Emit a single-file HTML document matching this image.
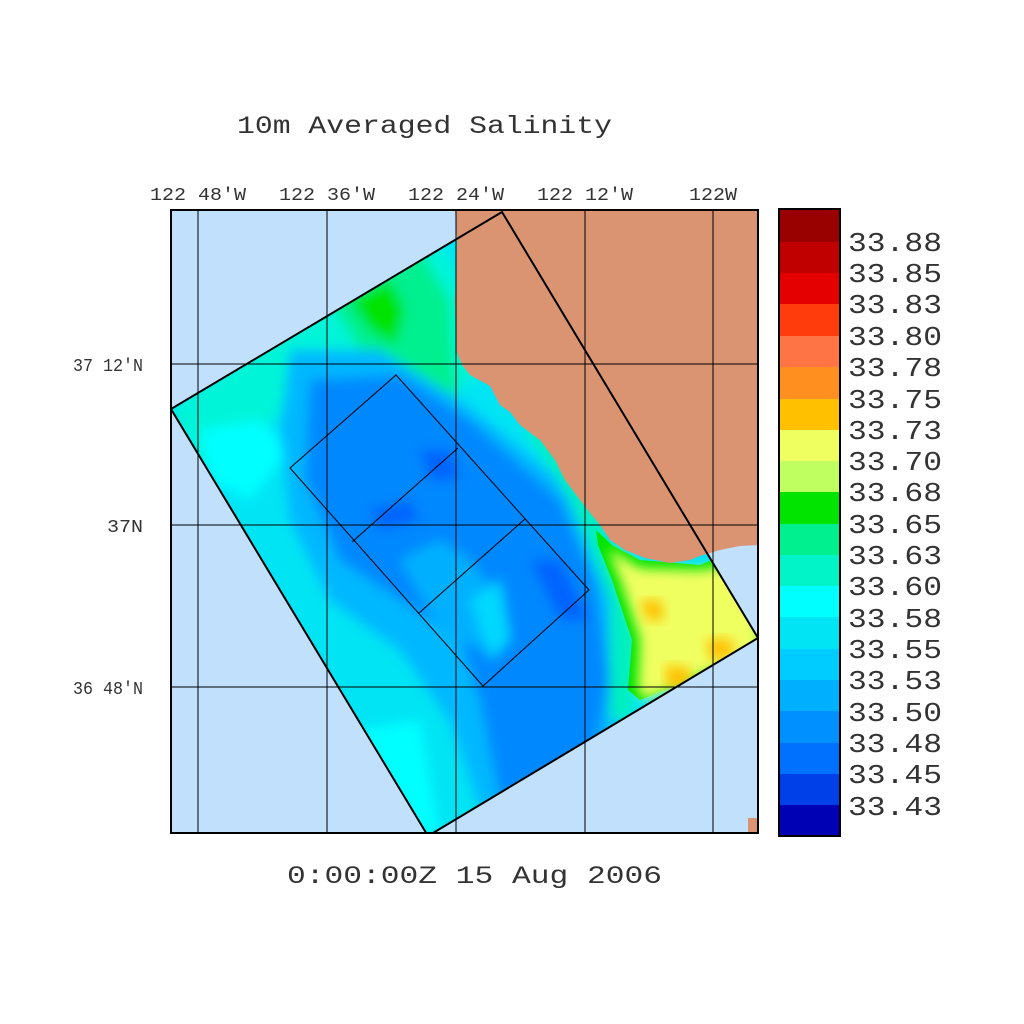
<!DOCTYPE html>
<html><head><meta charset="utf-8"><style>
html,body{margin:0;padding:0;background:#fff;}
svg{display:block;}
text{font-family:"Liberation Mono","DejaVu Sans Mono",monospace;fill:#333;}
</style></head><body>
<svg width="1024" height="1024" viewBox="0 0 1024 1024" xmlns="http://www.w3.org/2000/svg">
<defs>
<clipPath id="dom"><polygon points="171,409 502,212 758,638 428,836"/></clipPath>
<clipPath id="frame"><rect x="171" y="210" width="587" height="623"/></clipPath>
<filter id="bl" x="-20%" y="-20%" width="140%" height="140%"><feGaussianBlur stdDeviation="6"/></filter>
</defs>
<text x="237" y="133" font-size="25" textLength="375" lengthAdjust="spacingAndGlyphs">10m Averaged Salinity</text>
<g font-size="18">
<text x="150" y="200" textLength="96" lengthAdjust="spacingAndGlyphs">122 48'W</text>
<text x="279" y="200" textLength="96" lengthAdjust="spacingAndGlyphs">122 36'W</text>
<text x="408" y="200" textLength="96" lengthAdjust="spacingAndGlyphs">122 24'W</text>
<text x="537" y="200" textLength="96" lengthAdjust="spacingAndGlyphs">122 12'W</text>
<text x="689" y="200" textLength="48" lengthAdjust="spacingAndGlyphs">122W</text>
<text x="73" y="371" textLength="70" lengthAdjust="spacingAndGlyphs">37 12'N</text>
<text x="107" y="532" textLength="36" lengthAdjust="spacingAndGlyphs">37N</text>
<text x="73" y="694" textLength="70" lengthAdjust="spacingAndGlyphs">36 48'N</text>
</g>
<g clip-path="url(#frame)">
<rect x="171" y="210" width="587" height="623" fill="#c0e0fc"/>
<g clip-path="url(#dom)">
<rect x="160" y="200" width="610" height="650" fill="#00e4f4"/>
<g filter="url(#bl)">
<path d="M171,409 L320,300 L440,240 L470,300 L480,380 L420,390 L360,360 L300,380 L260,440 L200,470 Z" fill="#00f4d8"/>
<path d="M330,300 L420,250 L450,300 L460,440 L420,400 L360,350 Z" fill="#00f090"/>
<path d="M350,300 L390,280 L405,310 L395,345 L370,330 Z" fill="#00e400"/>
<path d="M200,430 L260,420 L290,450 L250,500 L210,480 Z" fill="#00ffff"/>
<path d="M290,350 L380,350 L460,400 L560,480 L600,560 L625,660 L620,740 L570,800 L480,810 L450,720 L400,650 L330,600 L290,520 L280,430 Z" fill="#00b8ff"/>
<path d="M310,380 L400,375 L470,420 L560,500 L595,580 L610,680 L590,770 L500,800 L480,700 L460,640 L400,600 L340,560 L305,480 Z" fill="#0088ff"/>
<path d="M420,450 L450,450 L460,480 L430,480 Z" fill="#0064ff"/>
<path d="M370,510 L410,500 L420,520 L380,530 Z" fill="#0064ff"/>
<path d="M530,560 L560,560 L590,620 L560,620 Z" fill="#0064ff"/>
<path d="M400,560 L440,540 L470,560 L500,600 L480,650 L440,630 Z" fill="#00b0ff"/>
<path d="M470,600 L500,580 L510,640 L490,660 Z" fill="#00d8ff"/>
<path d="M300,740 L420,720 L440,836 L380,836 Z" fill="#00ffff"/>
<path d="M520,420 L560,440 L600,520 L620,560 L640,650 L630,720 L610,720 L610,600 L570,500 Z" fill="#00f0c0"/>
</g>
<path d="M596,530 L612,545 L640,560 L700,565 L760,540 L760,650 L640,700 L628,690 L632,640 L612,580 L598,545 Z" fill="#00e400"/>
<path d="M608,548 L640,568 L700,570 L760,560 L760,650 L645,700 L638,690 L640,640 L622,585 Z" fill="#f0ff60" filter="url(#bl)"/>
<path d="M640,600 L660,600 L665,618 L648,622 Z" fill="#ffc000" filter="url(#bl)"/>
<path d="M665,665 L690,668 L690,685 L668,690 Z" fill="#ffc000" filter="url(#bl)"/>
<path d="M706,640 L730,638 L735,655 L712,662 Z" fill="#ffc000" filter="url(#bl)"/>
</g>
<path d="M455,210 L758,210 L758,545 L740,546 L720,550 L700,556 L690,560 L670,563 L645,558 L625,550 L610,540 L600,525 L590,513 L580,500 L565,480 L555,460 L540,440 L520,425 L510,412 L500,405 L490,386 L470,375 L462,365 L456,350 L455,300 L457,240 Z" fill="#da9472"/>
<rect x="748" y="818" width="10" height="15" fill="#da9472"/>
<g stroke="#000" stroke-width="1">
<line x1="198" y1="210" x2="198" y2="833"/><line x1="327" y1="210" x2="327" y2="833"/>
<line x1="456" y1="210" x2="456" y2="833"/><line x1="585" y1="210" x2="585" y2="833"/>
<line x1="713" y1="210" x2="713" y2="833"/>
<line x1="171" y1="364" x2="758" y2="364"/><line x1="171" y1="525" x2="758" y2="525"/>
<line x1="171" y1="687" x2="758" y2="687"/>
<polygon points="290,468 396,375 589,590 483,686" fill="none"/>
<line x1="352" y1="542" x2="458" y2="448"/><line x1="419" y1="613" x2="525" y2="519"/>
</g>
<polygon points="171,409 502,212 758,638 428,836" fill="none" stroke="#000" stroke-width="2"/>
</g>
<rect x="171" y="210" width="587" height="623" fill="none" stroke="#000" stroke-width="2"/>
<g>
<rect x="779" y="209" width="61" height="33" fill="#990000"/>
<rect x="779" y="242" width="61" height="31" fill="#c00000"/>
<rect x="779" y="273" width="61" height="31" fill="#e40000"/>
<rect x="779" y="304" width="61" height="32" fill="#ff3c0c"/>
<rect x="779" y="336" width="61" height="31" fill="#ff7444"/>
<rect x="779" y="367" width="61" height="32" fill="#ff9020"/>
<rect x="779" y="399" width="61" height="31" fill="#ffc000"/>
<rect x="779" y="430" width="61" height="31" fill="#f0ff60"/>
<rect x="779" y="461" width="61" height="31" fill="#c0ff60"/>
<rect x="779" y="492" width="61" height="32" fill="#00e400"/>
<rect x="779" y="524" width="61" height="31" fill="#00f090"/>
<rect x="779" y="555" width="61" height="31" fill="#00f4c8"/>
<rect x="779" y="586" width="61" height="31" fill="#00ffff"/>
<rect x="779" y="617" width="61" height="32" fill="#00e4f4"/>
<rect x="779" y="649" width="61" height="31" fill="#00ccff"/>
<rect x="779" y="680" width="61" height="31" fill="#00b0ff"/>
<rect x="779" y="711" width="61" height="32" fill="#0090ff"/>
<rect x="779" y="743" width="61" height="31" fill="#0070ff"/>
<rect x="779" y="774" width="61" height="31" fill="#0040e8"/>
<rect x="779" y="805" width="61" height="31" fill="#0000b4"/>
<rect x="779" y="209" width="61" height="627" fill="none" stroke="#000" stroke-width="2"/>
</g>
<g font-size="27">
<text x="848" y="251" textLength="94" lengthAdjust="spacingAndGlyphs">33.88</text>
<text x="848" y="282" textLength="94" lengthAdjust="spacingAndGlyphs">33.85</text>
<text x="848" y="313" textLength="94" lengthAdjust="spacingAndGlyphs">33.83</text>
<text x="848" y="345" textLength="94" lengthAdjust="spacingAndGlyphs">33.80</text>
<text x="848" y="376" textLength="94" lengthAdjust="spacingAndGlyphs">33.78</text>
<text x="848" y="408" textLength="94" lengthAdjust="spacingAndGlyphs">33.75</text>
<text x="848" y="439" textLength="94" lengthAdjust="spacingAndGlyphs">33.73</text>
<text x="848" y="470" textLength="94" lengthAdjust="spacingAndGlyphs">33.70</text>
<text x="848" y="501" textLength="94" lengthAdjust="spacingAndGlyphs">33.68</text>
<text x="848" y="533" textLength="94" lengthAdjust="spacingAndGlyphs">33.65</text>
<text x="848" y="564" textLength="94" lengthAdjust="spacingAndGlyphs">33.63</text>
<text x="848" y="595" textLength="94" lengthAdjust="spacingAndGlyphs">33.60</text>
<text x="848" y="627" textLength="94" lengthAdjust="spacingAndGlyphs">33.58</text>
<text x="848" y="658" textLength="94" lengthAdjust="spacingAndGlyphs">33.55</text>
<text x="848" y="689" textLength="94" lengthAdjust="spacingAndGlyphs">33.53</text>
<text x="848" y="721" textLength="94" lengthAdjust="spacingAndGlyphs">33.50</text>
<text x="848" y="752" textLength="94" lengthAdjust="spacingAndGlyphs">33.48</text>
<text x="848" y="783" textLength="94" lengthAdjust="spacingAndGlyphs">33.45</text>
<text x="848" y="815" textLength="94" lengthAdjust="spacingAndGlyphs">33.43</text>
</g>
<text x="287" y="883" font-size="25" textLength="375" lengthAdjust="spacingAndGlyphs">0:00:00Z  15 Aug 2006</text>
</svg>
</body></html>
